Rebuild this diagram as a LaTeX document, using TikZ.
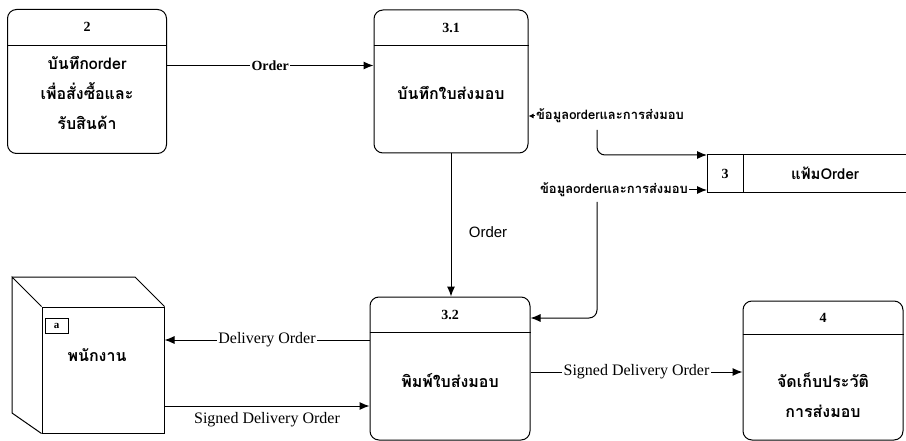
\documentclass[tikz,border=0pt]{standalone}
\usepackage{fontspec}
\setmainfont{Liberation Serif}
\newfontfamily\thaifont[Script=Thai]{Loma}
\newfontfamily\arialfont{Liberation Sans}
\usetikzlibrary{arrows.meta, positioning}

\begin{document}
\begin{tikzpicture}[
    x=1pt, y=-1pt,
    procbox/.style={draw, rounded corners=9pt, line width=1pt, inner sep=0pt},
    headtxt/.style={font=\fontsize{14}{16}\selectfont\bfseries},
    bodytxt/.style={font=\thaifont\fontsize{16}{30}\selectfont\bfseries, align=center},
    flow/.style={-{Latex[length=10pt,width=8pt]}, line width=1pt},
    lbl/.style={fill=white, inner sep=1.5pt, font=\fontsize{16}{18}\selectfont},
    thailbl/.style={fill=white, inner sep=1pt, font=\thaifont\fontsize{13}{15}\selectfont\bfseries}
]
\useasboundingbox (0,0) rectangle (906,441);

% Processes
\node[procbox, minimum width=159pt, minimum height=144pt] (p2) at (87,81.5) {};
\node[procbox, minimum width=154pt, minimum height=143pt] (p31) at (451,81.5) {};
\node[procbox, minimum width=160pt, minimum height=143pt] (p32) at (450,368.5) {};
\node[procbox, minimum width=160pt, minimum height=139pt] (p4) at (823,370.5) {};

\foreach \p/\h in {p2/36, p31/36, p32/36, p4/34}
  \draw[line width=0.8pt] ([yshift=-\h pt]\p.north west) -- ([yshift=-\h pt]\p.north east);

\node[headtxt] (p2n) at ([yshift=-18pt]p2.north) {2};
\node[headtxt] (p31n) at ([yshift=-18pt]p31.north) {3.1};
\node[headtxt] (p32n) at ([yshift=-18pt]p32.north) {3.2};
\node[headtxt] (p4n) at ([yshift=-17pt]p4.north) {4};

\node[bodytxt] (p2b) at (87,93) {บันทึกorder\\เพื่อสั่งซื้อและ\\รับสินค้า};
\node[bodytxt] (p31b) at (451,93) {บันทึกใบส่งมอบ};
\node[bodytxt] (p32b) at (450,381) {พิมพ์ใบส่งมอบ};
\node[bodytxt] (p4b) at (823,395) {จัดเก็บประวัติ\\การส่งมอบ};

% Data store
\node[inner sep=0pt, minimum width=199pt, minimum height=37pt, anchor=north west] (st) at (707,155) {};
\draw[line width=1pt] (st.north east) -- (st.north west) -- (st.south west) -- (st.south east);
\draw[line width=0.8pt] (743,155) -- (743,192);
\node[headtxt] (stn) at (725,173.5) {3};
\node[font=\thaifont\fontsize{15}{17}\selectfont\bfseries] (stb) at (825,173.5) {แฟ้มOrder};

% External entity
\node[draw, line width=1pt, minimum width=122pt, minimum height=126pt, inner sep=0pt] (ent) at (103,370) {};
\draw[line width=1pt] (ent.north west) -- (12,277) -- (12,413) -- (ent.south west);
\draw[line width=1pt] (12,277) -- (135,277) -- (ent.north east);
\node[draw, line width=0.8pt, minimum width=23pt, minimum height=15pt, inner sep=0pt] (entid) at (56.5,325.5) {\fontsize{11}{12}\selectfont\bfseries a};
\node[bodytxt] (entb) at (97,355) {พนักงาน};

% Flows
\draw[flow] ([yshift=16pt]p2.east) -- node[lbl, font=\fontsize{14}{16}\selectfont\bfseries] {Order} ([yshift=16pt]p31.west);
\draw[flow] (p31.south) -- node[right=14pt, pos=0.55, font=\arialfont\fontsize{15}{17}\selectfont] {Order} (p31.south |- p32.north);

\node[thailbl] (dA) at (610,116) {ข้อมูลorderและการส่งมอบ};
\coordinate (dAa) at (597,130);
\draw[flow, -{Latex[length=5pt,width=5pt]}] (dA.west) -- (dA.west -| p31.east);
\draw[flow, rounded corners=8pt] (dAa) |- (st.north west);

\node[thailbl] (dB) at (614,190) {ข้อมูลorderและการส่งมอบ};
\coordinate (dBb) at (597,202);
\draw[flow] (dB.east) -- (dB.east -| st.south west);
\draw[flow, rounded corners=8pt] (dBb) |- ([yshift=50.5pt]p32.east);

\draw[flow] ([yshift=28.5pt]p32.west) -- node[lbl] {Delivery Order} ([yshift=28.5pt]p32.west -| ent.east);
\draw[flow] ([yshift=-36pt]ent.east) -- node[below=3pt, font=\fontsize{16}{18}\selectfont] {Signed Delivery Order} ([yshift=-36pt]ent.east -| p32.west);
\draw[flow] ([yshift=-3.5pt]p32.east) -- node[lbl] {Signed Delivery Order} ([yshift=-3.5pt]p32.east -| p4.west);

\end{tikzpicture}
\end{document}
